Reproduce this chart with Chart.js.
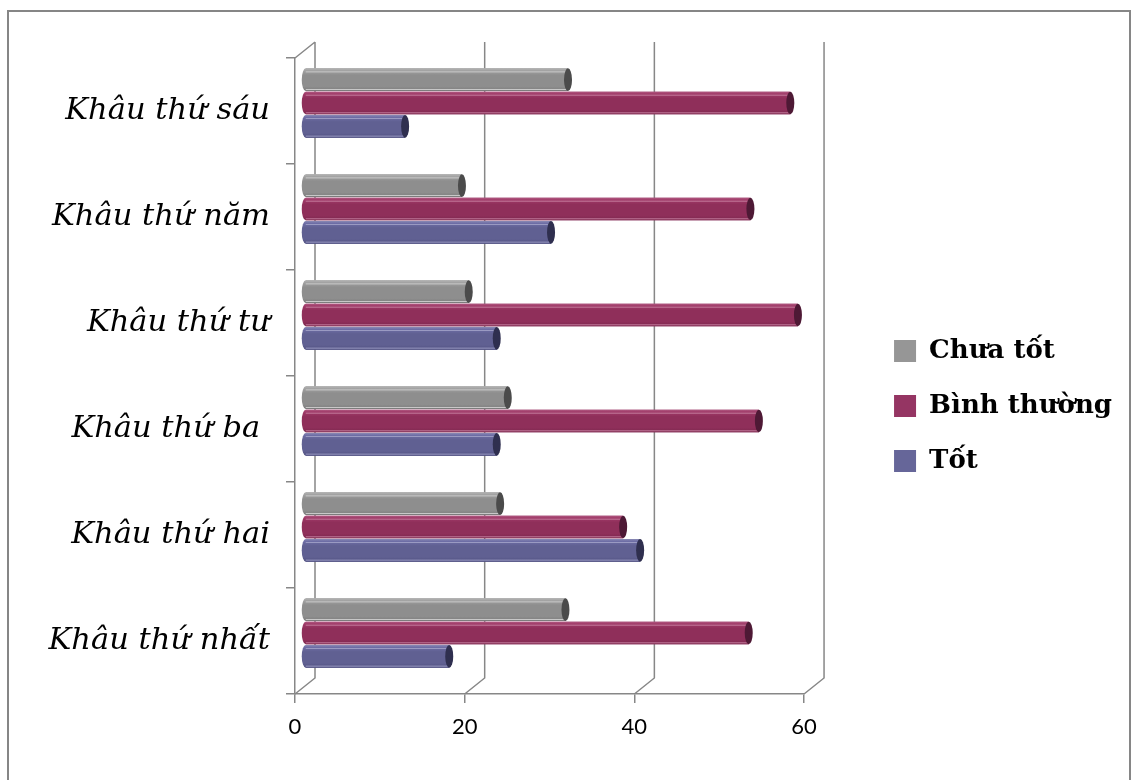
<!DOCTYPE html>
<html lang="vi">
<head>
<meta charset="UTF-8">
<title>Đánh giá các khâu</title>
<script src="https://cdn.jsdelivr.net/npm/chart.js"></script>
<style>
  html, body { margin: 0; padding: 0; background: #fff; }
  #chart { display: block; }
</style>
</head>
<body>
<canvas id="chart" width="1138" height="780"></canvas>
<script>
  // data (percent)
  const categories = ['Khâu thứ nhất', 'Khâu thứ hai', 'Khâu thứ ba ', 'Khâu thứ tư', 'Khâu thứ năm', 'Khâu thứ sáu'];
  const chuaTot = [30.7, 23.0, 23.9, 19.3, 18.5, 31.0];
  const binhThuong = [52.3, 37.5, 53.5, 58.1, 52.5, 57.2];
  const tot = [17.0, 39.5, 22.6, 22.6, 29.0, 11.8];
  const xTicks = [0, 20, 40, 60];

  const DX = 20, DY = 16; // depth of the fake 3d box

  const looks = {
    'Chưa tốt':    { flat: '#969696', edge: '#b4b4b4', light: '#a2a2a2', body: '#8e8e8e', dark: '#7a7a7a', line: '#c9c9c9', cap: '#4b4b4b' },
    'Bình thường': { flat: '#953563', edge: '#b05a82', light: '#a03a68', body: '#8f2f5a', dark: '#7a264c', line: '#c27a9c', cap: '#4e1935' },
    'Tốt':         { flat: '#666699', edge: '#8a8ab4', light: '#6e6ea6', body: '#606092', dark: '#505080', line: '#9a9ac2', cap: '#2f2f4f' }
  };

  function cylinder(ctx, x0, x1, yc, h, c) {
    const top = yc - h / 2, rx = 4, ry = h / 2;
    const g = ctx.createLinearGradient(0, top, 0, top + h);
    g.addColorStop(0, c.edge);
    g.addColorStop(0.1, c.light);
    g.addColorStop(0.3, c.body);
    g.addColorStop(0.8, c.body);
    g.addColorStop(1, c.dark);
    ctx.fillStyle = g;
    ctx.beginPath();
    ctx.moveTo(x1, top);
    ctx.lineTo(x0, top);
    ctx.ellipse(x0, yc, rx, ry, 0, -Math.PI / 2, Math.PI / 2, true);
    ctx.lineTo(x1, top + h);
    ctx.closePath();
    ctx.fill();
    ctx.strokeStyle = c.line;
    ctx.lineWidth = 1;
    ctx.beginPath();
    ctx.moveTo(x0, top + 3.5); ctx.lineTo(x1, top + 3.5);
    ctx.moveTo(x0, top + h - 1.5); ctx.lineTo(x1, top + h - 1.5);
    ctx.stroke();
    ctx.fillStyle = c.cap;
    ctx.beginPath();
    ctx.ellipse(x1, yc, rx, ry, 0, 0, Math.PI * 2);
    ctx.fill();
  }

  const box3d = {
    id: 'box3d',
    beforeDraw(chart) {
      const ctx = chart.ctx;
      ctx.save();
      ctx.strokeStyle = '#868686';
      ctx.lineWidth = 2;
      ctx.strokeRect(8, 11, 1122, 790);
      ctx.restore();
    },
    beforeDatasetsDraw(chart) {
      const { ctx, chartArea: a, scales: { x } } = chart;
      ctx.save();
      ctx.strokeStyle = '#878787';
      ctx.lineWidth = 1.5;
      ctx.beginPath();
      xTicks.forEach(v => {
        const px = x.getPixelForValue(v);
        ctx.moveTo(px, a.bottom);
        ctx.lineTo(px + DX, a.bottom - DY);
        ctx.lineTo(px + DX, a.top - DY);
      });
      ctx.moveTo(a.left, a.top);
      ctx.lineTo(a.left + DX, a.top - DY);
      ctx.stroke();
      ctx.restore();
      // bars sit half way into the box
      ctx.save();
      ctx.translate(DX / 2, -DY / 2);
    },
    afterDatasetsDraw(chart) {
      const ctx = chart.ctx;
      chart.data.datasets.forEach((ds, i) => {
        const meta = chart.getDatasetMeta(i);
        meta.data.forEach(el => {
          const p = el.getProps(['x', 'y', 'base', 'height'], true);
          cylinder(ctx, p.base, p.x, p.y, p.height, looks[ds.label]);
        });
      });
      ctx.restore();
    }
  };

  new Chart(document.getElementById('chart'), {
    type: 'bar',
    data: {
      labels: categories,
      datasets: [
        { label: 'Chưa tốt', data: chuaTot, backgroundColor: looks['Chưa tốt'].flat },
        { label: 'Bình thường', data: binhThuong, backgroundColor: looks['Bình thường'].flat },
        { label: 'Tốt', data: tot, backgroundColor: looks['Tốt'].flat }
      ]
    },
    options: {
      indexAxis: 'y',
      responsive: false,
      animation: false,
      layout: { padding: { left: 40, top: 58, right: 16, bottom: 26 } },
      datasets: { bar: { categoryPercentage: 0.66, barPercentage: 0.97, borderWidth: 0 } },
      scales: {
        x: {
          min: 0, max: 60,
          afterBuildTicks(s) { s.ticks = xTicks.map(v => ({ value: v })); },
          grid: { drawOnChartArea: false, color: '#878787', lineWidth: 1.5, tickLength: 9 },
          border: { color: '#878787', width: 1.5 },
          ticks: { color: '#000', padding: 11, font: { family: 'Lato', size: 22 } },
          afterFit(s) { s.height = 60; }
        },
        y: {
          reverse: true,
          grid: { drawOnChartArea: false, offset: true, color: '#878787', lineWidth: 1.5, tickLength: 9 },
          border: { color: '#878787', width: 1.5 },
          ticks: { color: '#000', padding: 16, font: { family: 'DejaVu Serif', style: 'italic', size: 30.5 } },
          afterFit(s) { s.width = 255; }
        },
        gap: {
          type: 'linear', position: 'right', axis: 'y',
          grid: { display: false }, border: { display: false }, ticks: { display: false },
          afterFit(s) { s.width = 61; }
        }
      },
      plugins: {
        tooltip: { enabled: false },
        legend: {
          position: 'right',
          align: 'center',
          maxWidth: 274,
          labels: {
            boxWidth: 22, boxHeight: 22, padding: 29, color: '#000',
            font: { family: 'DejaVu Serif', weight: 'bold', size: 26 }
          }
        }
      }
    },
    plugins: [box3d]
  });
</script>
</body>
</html>
